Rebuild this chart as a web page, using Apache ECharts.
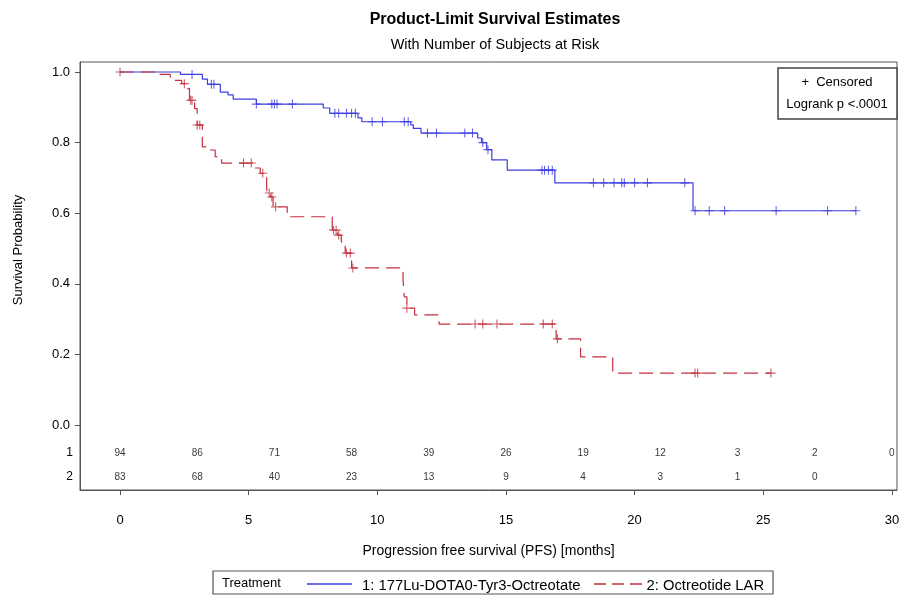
<!DOCTYPE html>
<html><head><meta charset="utf-8">
<script src="https://cdn.jsdelivr.net/npm/echarts@6/dist/echarts.min.js"></script>
<style>html,body{margin:0;padding:0;background:#fff}#c{width:903px;height:599px}</style>
</head><body><div id="c"></div>
<script>
// ---- data ----
const blueTimes = [0, 2.35, 3.2, 3.4, 3.9, 4.2, 4.4, 5.3, 7.9, 8.15, 9.25, 9.4, 11.3, 11.4, 11.7, 13.9, 14.05, 14.25, 14.45, 15.05, 16.9, 22.27, 28.6];
const blueSurv  = [1.0, 0.993, 0.98, 0.965, 0.943, 0.935, 0.923, 0.909, 0.898, 0.883, 0.87, 0.859, 0.85, 0.84, 0.827, 0.813, 0.80, 0.78, 0.751, 0.722, 0.686, 0.607, 0.607];
const blueCensor = [2.8, 3.55, 3.65, 5.3, 5.9, 6.0, 6.1, 6.7, 8.35, 8.5, 8.8, 9.0, 9.15, 9.8, 10.2, 11.05, 11.2, 11.95, 12.3, 13.4, 13.7, 14.1, 14.3, 16.4, 16.5, 16.65, 16.8, 18.4, 18.8, 19.2, 19.5, 19.6, 20.0, 20.5, 21.95, 22.35, 22.9, 23.5, 25.5, 27.5, 28.6];

const redTimes = [0, 1.5, 1.95, 2.15, 2.4, 2.6, 2.7, 2.9, 3.0, 3.2, 3.4, 3.7, 3.95, 5.25, 5.45, 5.7, 5.85, 5.95, 6.5, 8.25, 8.45, 8.6, 8.75, 9.0, 11.0, 11.05, 11.15, 11.45, 12.4, 16.95, 17.9, 19.15, 25.3];
const redSurv  = [1.0, 0.993, 0.986, 0.976, 0.967, 0.953, 0.92, 0.896, 0.85, 0.788, 0.779, 0.76, 0.742, 0.728, 0.713, 0.657, 0.646, 0.618, 0.59, 0.552, 0.538, 0.519, 0.487, 0.445, 0.411, 0.363, 0.331, 0.312, 0.286, 0.244, 0.193, 0.147, 0.147];
const redCensor = [0, 2.5, 2.75, 2.8, 3.0, 3.1, 4.8, 5.1, 5.55, 5.8, 5.9, 6.05, 8.3, 8.4, 8.5, 8.8, 8.95, 9.05, 11.15, 13.8, 14.1, 14.65, 16.45, 16.8, 17.0, 22.35, 22.45, 25.3];

const riskTimes = [0, 3, 6, 9, 12, 15, 18, 21, 24, 27, 30];
const risk1 = [94, 86, 71, 58, 39, 26, 19, 12, 3, 2, 0];
const risk2 = [83, 68, 40, 23, 13, 9, 4, 3, 1, 0];

const xTicks = [0, 5, 10, 15, 20, 25, 30];
const yTicks = [0, 0.2, 0.4, 0.6, 0.8, 1.0];

const name1 = '1: 177Lu-DOTA0-Tyr3-Octreotate';
const name2 = '2: Octreotide LAR';

// ---- helpers ----
function survAt(times, surv, t) {
  let s = surv[0];
  for (let i = 0; i < times.length; i++) if (times[i] <= t) s = surv[i];
  return s;
}
const FONT = "'Liberation Sans Narrow', 'Liberation Sans', Arial, sans-serif";
const BLUE = '#3c3ce0', RED = '#c3303f';
const PLUS = 'path://M0,4.4H4.4V0H5.6V4.4H10V5.6H5.6V10H4.4V5.6H0Z';
const ROW1 = -0.0793, ROW2 = -0.1473;

const chart = echarts.init(document.getElementById('c'));
chart.setOption({
  animation: false,
  textStyle: { fontFamily: FONT },
  title: {
    text: 'Product-Limit Survival Estimates',
    subtext: 'With Number of Subjects at Risk',
    left: 490, textAlign: 'center', top: 7, itemGap: 9,
    textStyle: { fontFamily: FONT, fontSize: 16, fontWeight: 'bold', color: '#000' },
    subtextStyle: { fontFamily: FONT, fontSize: 14.5, color: '#000' }
  },
  grid: { left: 80, right: 6, top: 62, bottom: 109, show: true, borderColor: '#555', borderWidth: 1 },
  xAxis: {
    type: 'value', min: -1.5546, max: 30.198,
    name: 'Progression free survival (PFS) [months]', nameLocation: 'middle', nameGap: 54,
    nameTextStyle: { fontFamily: FONT, fontSize: 14, color: '#000' },
    axisLine: { onZero: false, lineStyle: { color: '#555' } },
    axisTick: { customValues: xTicks, length: 5, lineStyle: { color: '#555' } },
    axisLabel: { customValues: xTicks, margin: 24, fontFamily: FONT, fontSize: 13, color: '#000' },
    splitLine: { show: false }
  },
  yAxis: {
    type: 'value', min: -0.1841, max: 1.0283,
    axisLine: { show: true, onZero: false, lineStyle: { color: '#555' } },
    axisTick: { show: true, customValues: yTicks, length: 5, lineStyle: { color: '#555' } },
    axisLabel: { customValues: yTicks, margin: 10, fontFamily: FONT, fontSize: 13, color: '#000',
      formatter: v => v.toFixed(1) },
    splitLine: { show: false }
  },
  legend: {
    data: [{ name: name1, icon: 'none' }, { name: name2, icon: 'none' }],
    left: 306, top: 573, itemWidth: 46, itemHeight: 10, itemGap: 15,
    lineStyle: { opacity: 0 },
    textStyle: { fontFamily: FONT, fontSize: 14.8, color: '#000' }
  },
  graphic: [
    { type: 'text', rotation: Math.PI / 2, x: 18, y: 250,
      style: { text: 'Survival Probability', font: "13px " + FONT, fill: '#000', textAlign: 'center', textVerticalAlign: 'middle' } },
    { type: 'text', x: 73, y: 453, style: { text: '1', font: "12px " + FONT, fill: '#000', textAlign: 'right', textVerticalAlign: 'middle' } },
    { type: 'text', x: 73, y: 477, style: { text: '2', font: "12px " + FONT, fill: '#000', textAlign: 'right', textVerticalAlign: 'middle' } },
    { type: 'rect', shape: { x: 778, y: 68, width: 119, height: 51 }, style: { fill: '#fff', stroke: '#444', lineWidth: 1.5 }, z: 10 },
    { type: 'text', x: 837, y: 82, z: 11, style: { text: '+  Censored', font: "13px " + FONT, fill: '#000', textAlign: 'center', textVerticalAlign: 'middle' } },
    { type: 'text', x: 837, y: 104, z: 11, style: { text: 'Logrank p <.0001', font: "13px " + FONT, fill: '#000', textAlign: 'center', textVerticalAlign: 'middle' } },
    { type: 'rect', shape: { x: 213, y: 571, width: 560, height: 23 }, style: { fill: 'none', stroke: '#555', lineWidth: 1.2 } },
    { type: 'text', x: 222, y: 583, style: { text: 'Treatment', font: "13px " + FONT, fill: '#000', textVerticalAlign: 'middle' } },
    { type: 'line', z: 100, shape: { x1: 307, y1: 584, x2: 352, y2: 584 }, style: { stroke: BLUE, lineWidth: 1.4 } },
    { type: 'line', z: 100, shape: { x1: 594, y1: 584, x2: 642, y2: 584 }, style: { stroke: RED, lineWidth: 1.4, lineDash: [12, 6] } }
  ],
  series: [
    { name: name1, type: 'line', step: 'end', showSymbol: false, symbol: 'none',
      data: blueTimes.map((t, i) => [t, blueSurv[i]]),
      lineStyle: { color: BLUE, width: 1.2 }, itemStyle: { color: BLUE } },
    { name: name2, type: 'line', step: 'end', showSymbol: false, symbol: 'none',
      data: redTimes.map((t, i) => [t, redSurv[i]]),
      lineStyle: { color: RED, width: 1.2, type: [14, 7] }, itemStyle: { color: RED } },
    { name: 'c1', type: 'scatter', symbol: PLUS, symbolSize: 9,
      data: blueCensor.map(t => [t, survAt(blueTimes, blueSurv, t)]), itemStyle: { color: BLUE } },
    { name: 'c2', type: 'scatter', symbol: PLUS, symbolSize: 9,
      data: redCensor.map(t => [t, survAt(redTimes, redSurv, t)]), itemStyle: { color: RED } },
    { name: 'r1', type: 'scatter', symbolSize: 1, itemStyle: { color: 'rgba(0,0,0,0)' },
      data: risk1.map((n, i) => [riskTimes[i], ROW1, n]),
      label: { show: true, position: 'inside', formatter: p => p.value[2], fontFamily: FONT, fontSize: 10, color: '#000' } },
    { name: 'r2', type: 'scatter', symbolSize: 1, itemStyle: { color: 'rgba(0,0,0,0)' },
      data: risk2.map((n, i) => [riskTimes[i], ROW2, n]),
      label: { show: true, position: 'inside', formatter: p => p.value[2], fontFamily: FONT, fontSize: 10, color: '#000' } }
  ]
});
</script></body></html>
